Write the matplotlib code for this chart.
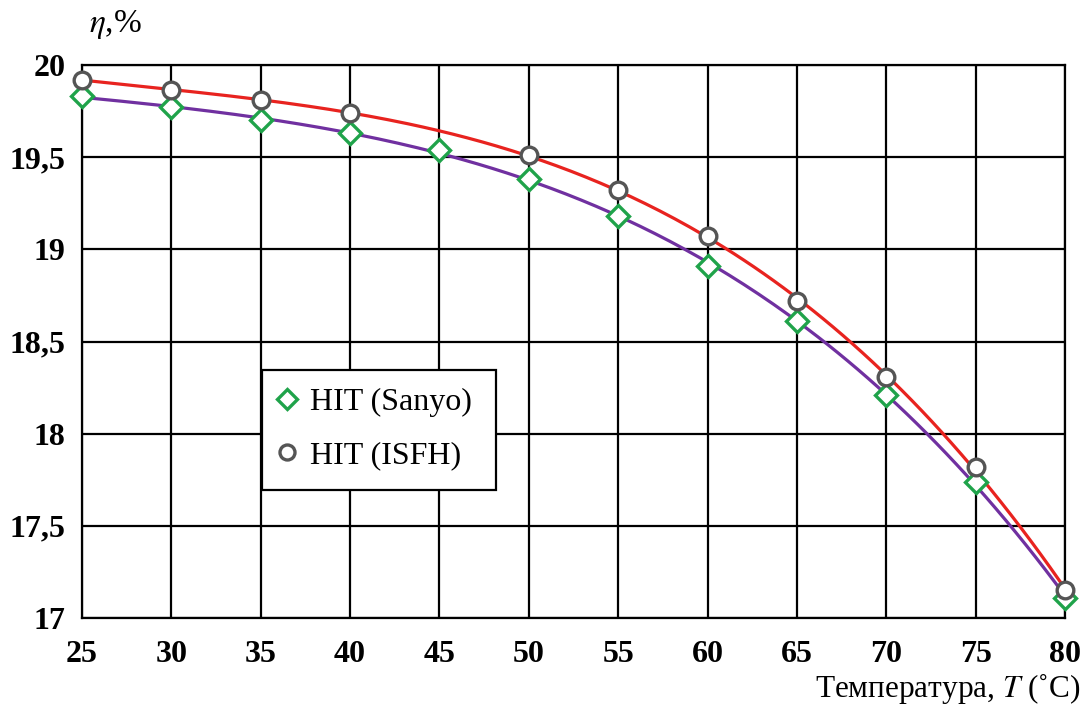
import numpy as np
import matplotlib.pyplot as plt
from matplotlib.patches import Rectangle

# temperature, C
temps = [25, 30, 35, 40, 45, 50, 55, 60, 65, 70, 75, 80]
# efficiency, %
sanyo = [19.83, 19.77, 19.70, 19.63, 19.54, 19.38, 19.18, 18.91, 18.61, 18.21, 17.74, 17.11]
isfh_t = [25, 30, 35, 40, 50, 55, 60, 65, 70, 75, 80]
isfh = [19.92, 19.865, 19.81, 19.74, 19.51, 19.32, 19.07, 18.72, 18.31, 17.82, 17.15]

plt.rcParams['font.family'] = ['Liberation Serif', 'DejaVu Serif']
plt.rcParams['mathtext.fontset'] = 'stix'

fig = plt.figure(figsize=(10.86, 7.08), dpi=100)
ax = fig.add_axes([0.0755, 0.1271, 0.9052, 0.7811])

# smooth lines through the points
tt = np.linspace(25, 80, 200)
red_fit = np.polyval(np.polyfit(isfh_t, isfh, 4), tt)
pur_fit = np.polyval(np.polyfit(temps, sanyo, 4), tt)
ax.plot(tt, red_fit, color='#e8231f', lw=2.3, zorder=3)
ax.plot(tt, pur_fit, color='#7030a0', lw=2.3, zorder=3)

ax.plot(temps, sanyo, ls='none', marker='D', ms=11, mfc='white', mec='#1fa34a',
        mew=2.4, label='HIT (Sanyo)', zorder=4, clip_on=False)
ax.plot(isfh_t, isfh, ls='none', marker='o', ms=12, mfc='white', mec='#555555',
        mew=2.4, label='HIT (ISFH)', zorder=4, clip_on=False)

ax.set_xlim(25, 80)
ax.set_ylim(17, 20)
ax.set_xticks(range(25, 81, 5))
ax.set_yticks([17, 17.5, 18, 18.5, 19, 19.5, 20])
ax.set_yticklabels(['17', '17,5', '18', '18,5', '19', '19,5', '20'])
ax.tick_params(length=0, labelsize=23)
ax.tick_params(axis='x', pad=16)
ax.tick_params(axis='y', pad=12)
for lab in ax.get_xticklabels() + ax.get_yticklabels():
    lab.set_fontweight('bold')
ax.grid(True, color='black', lw=1.6)
for s in ax.spines.values():
    s.set_linewidth(1.6)

# legend box drawn separately (wider than the legend content)
box = Rectangle((0.183, 0.2315), 0.238, 0.217, transform=ax.transAxes,
                facecolor='white', edgecolor='black', lw=1.6, zorder=5)
ax.add_patch(box)
leg = ax.legend(loc='upper left', bbox_to_anchor=(0.183, 0.448), fontsize=23,
                frameon=False, handlelength=0.5, handletextpad=0.45,
                borderpad=0.55, labelspacing=0.75, borderaxespad=0,
                markerscale=0.9)
leg.set_zorder(6)

fig.text(0.995, 0.016, 'Температура, $T$ (˚C)', ha='right', va='baseline', fontsize=22.5)
fig.text(0.082, 0.965, r'$\eta$,%', ha='left', va='center', fontsize=24)

fig.savefig('out.png', dpi=100)
